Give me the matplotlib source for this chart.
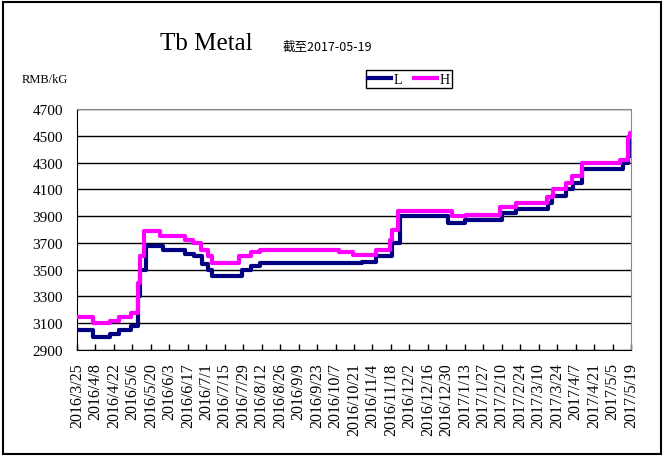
import numpy as np
import matplotlib
matplotlib.use("Agg")
import matplotlib.pyplot as plt
from matplotlib.patches import Rectangle

# step points (value holds until the next date)
low_dates = ["2016-03-25", "2016-04-06", "2016-04-19", "2016-04-26", "2016-05-05",
             "2016-05-10", "2016-05-12", "2016-05-16", "2016-05-29", "2016-06-15",
             "2016-06-22", "2016-06-28", "2016-07-02", "2016-07-05", "2016-07-28",
             "2016-08-04", "2016-08-11", "2016-10-27", "2016-11-07", "2016-11-19",
             "2016-11-25", "2016-12-31", "2017-01-13", "2017-02-10", "2017-02-21",
             "2017-03-17", "2017-03-20", "2017-03-31", "2017-04-05", "2017-04-12",
             "2017-05-13", "2017-05-17", "2017-05-18", "2017-05-19"]
low_vals = [3050, 3000, 3020, 3050, 3080,
            3300, 3500, 3680, 3650, 3620,
            3600, 3540, 3500, 3450, 3500,
            3530, 3550, 3560, 3600, 3700,
            3900, 3850, 3870, 3920, 3950,
            4000, 4050, 4100, 4150, 4250,
            4300, 4350, 4470, 4470]

high_dates = ["2016-03-25", "2016-04-06", "2016-04-19", "2016-04-26", "2016-05-05",
              "2016-05-10", "2016-05-12", "2016-05-15", "2016-05-27", "2016-06-15",
              "2016-06-21", "2016-06-27", "2016-07-02", "2016-07-05", "2016-07-26",
              "2016-08-04", "2016-08-11", "2016-10-10", "2016-10-20", "2016-11-07",
              "2016-11-17", "2016-11-19", "2016-11-23", "2017-01-03", "2017-01-14",
              "2017-02-09", "2017-02-21", "2017-03-16", "2017-03-21", "2017-03-31",
              "2017-04-04", "2017-04-12", "2017-05-11", "2017-05-17", "2017-05-18",
              "2017-05-19"]
high_vals = [3150, 3100, 3120, 3150, 3180,
             3400, 3600, 3790, 3750, 3720,
             3700, 3650, 3600, 3550, 3600,
             3630, 3650, 3630, 3610, 3650,
             3720, 3800, 3940, 3900, 3910,
             3970, 4000, 4040, 4100, 4150,
             4200, 4300, 4320, 4490, 4520,
             4520]

tick_dates = np.arange(np.datetime64("2016-03-25"), np.datetime64("2017-05-20"),
                       np.timedelta64(14, "D"))
y_ticks = [2900, 3100, 3300, 3500, 3700, 3900, 4100, 4300, 4500, 4700]

serif = "Liberation Serif"

fig = plt.figure(figsize=(6.66, 4.6), dpi=100)
ax = fig.add_axes([77 / 666, 1 - 351 / 460, 554 / 666, 241 / 460])

ld = np.array(low_dates, dtype="datetime64[D]")
hd = np.array(high_dates, dtype="datetime64[D]")
ax.plot(ld, low_vals, color="#000080", lw=3, drawstyle="steps-post", label="L", zorder=3)
ax.plot(hd, high_vals, color="#FF00FF", lw=3, drawstyle="steps-post", label="H", zorder=4)

ax.set_ylim(2900, 4700)
ax.set_yticks(y_ticks)
ax.set_yticklabels([str(v) for v in y_ticks], fontfamily=serif, fontsize=11)
ax.set_xlim(tick_dates[0], tick_dates[-1])
ax.set_xticks(tick_dates)
labels = []
for d in tick_dates.astype(object):
    labels.append(f"{d.year}/{d.month}/{d.day}")
ax.set_xticklabels(labels, rotation=90, fontfamily=serif, fontsize=11.5)

ax.grid(axis="y", color="black", lw=1)
ax.set_axisbelow(True)
ax.tick_params(axis="x", direction="in", length=4, width=1, pad=9)
ax.tick_params(axis="y", length=0, pad=10)
for s in ["top", "right"]:
    ax.spines[s].set_color("#888888")
for s in ["left", "bottom"]:
    ax.spines[s].set_color("black")

fig.text(206 / 666, 1 - 44 / 460, "Tb Metal", fontfamily=serif, fontsize=18,
         ha="center", va="center")
fig.text(283 / 666, 1 - 47 / 460, "截至2017-05-19",
         fontfamily=["Noto Sans CJK SC", "DejaVu Sans"], fontsize=9, va="center")
fig.text(22 / 666, 1 - 80 / 460, "RMB/kG", fontfamily=serif, fontsize=9, va="center")

leg = fig.legend(loc="center", bbox_to_anchor=(409 / 666, 1 - 80 / 460), ncol=2,
                 prop={"family": serif, "size": 10}, fancybox=False, edgecolor="black",
                 framealpha=1, handlelength=1.6, handletextpad=0.2, columnspacing=0.9,
                 borderpad=0.2)
leg.get_frame().set_linewidth(1)

fig.patches.append(Rectangle((3 / 666, 5 / 460), 658 / 666, 452 / 460,
                             transform=fig.transFigure, fill=False,
                             edgecolor="black", lw=1.5))

fig.savefig("out.png", dpi=100)
